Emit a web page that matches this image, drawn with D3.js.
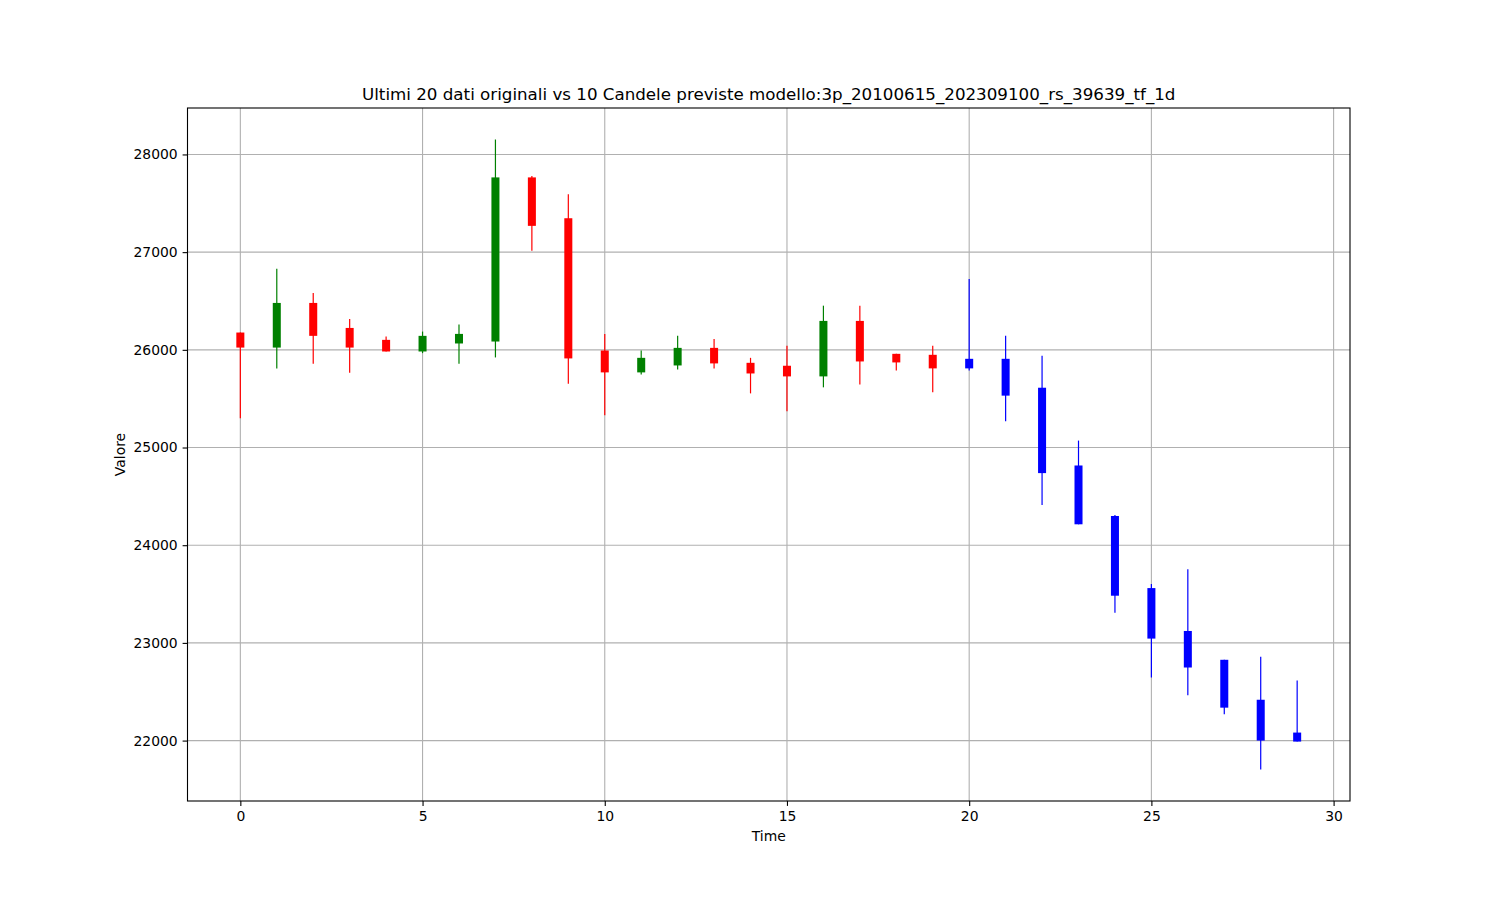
<!DOCTYPE html>
<html>
<head>
<meta charset="utf-8">
<script src="https://cdn.jsdelivr.net/npm/d3@7"></script>
<style>
  html, body { margin: 0; padding: 0; background: #fff; }
  svg { display: block; }
  text { font-family: "DejaVu Sans", sans-serif; fill: #000; }
</style>
</head>
<body>
<svg id="chart" width="1500" height="900"></svg>
<script>
// ---- data ----
const times = d3.range(0, 30);
const opens  = [26177, 26023, 26480, 26224, 26102, 25983, 26065, 26085, 27765, 27347,
                25993, 25769, 25840, 26020, 25867, 25837, 25728, 26296, 25959, 25949,
                25908, 25908, 25612, 24816, 24299, 23561, 23122, 22827, 22418, 22082];
const closes = [26023, 26480, 26143, 26023, 25983, 26143, 26163, 27765, 27269, 25912,
                25769, 25918, 26020, 25861, 25758, 25728, 26296, 25881, 25871, 25810,
                25810, 25531, 24738, 24214, 23483, 23044, 22748, 22337, 22000, 21990];
const highs  = [26177, 26830, 26582, 26316, 26136, 26187, 26258, 28153, 27779, 27592,
                26163, 25993, 26143, 26112, 25918, 26041, 26452, 26452, 25959, 26041,
                26724, 26143, 25939, 25071, 24309, 23602, 23755, 22827, 22857, 22616];
const lows   = [25299, 25809, 25857, 25765, 25983, 25966, 25857, 25922, 27014, 25653,
                25330, 25748, 25799, 25809, 25554, 25371, 25616, 25646, 25789, 25565,
                25789, 25269, 24412, 24214, 23309, 22646, 22463, 22269, 21704, 21990];
const nOriginal = 20;
const xTicks = [0, 5, 10, 15, 20, 25, 30];
const yTicks = [22000, 23000, 24000, 25000, 26000, 27000, 28000];
const titleText = "Ultimi 20 dati originali vs 10 Candele previste modello:3p_20100615_202309100_rs_39639_tf_1d";

(function () {
// ---- layout ----
const mLeft = 187.5, mRight = 1350, mTop = 108, mBottom = 801;

const svg = d3.select("#chart");

// domains with matplotlib-like 5% margins
const xmin = d3.min(times), xmax = d3.max(times);
const xm = (xmax - xmin) * 0.05;
const ymin = d3.min(lows), ymax = d3.max(highs);
const ym = (ymax - ymin) * 0.05;

const x = d3.scaleLinear().domain([xmin - xm, xmax + xm]).range([mLeft, mRight]);
const y = d3.scaleLinear().domain([ymin - ym, ymax + ym]).range([mBottom, mTop]);

const candles = times.map((t, i) => ({
  t, o: opens[i], c: closes[i], h: highs[i], l: lows[i],
  color: i >= nOriginal ? "#0000ff" : (closes[i] >= opens[i] ? "#008000" : "#ff0000")
}));

// grid
const grid = svg.append("g");
grid.selectAll("line.gx").data(xTicks).join("line")
  .attr("x1", d => x(d)).attr("x2", d => x(d))
  .attr("y1", mTop).attr("y2", mBottom)
  .attr("stroke", "#b0b0b0").attr("stroke-width", 1.1);
grid.selectAll("line.gy").data(yTicks).join("line")
  .attr("x1", mLeft).attr("x2", mRight)
  .attr("y1", d => y(d)).attr("y2", d => y(d))
  .attr("stroke", "#b0b0b0").attr("stroke-width", 1.1);

// candles
const bodyW = x(0.22) - x(0);
const cg = svg.append("g");
cg.selectAll("line.wick").data(candles).join("line")
  .attr("x1", d => x(d.t)).attr("x2", d => x(d.t))
  .attr("y1", d => y(d.h)).attr("y2", d => y(d.l))
  .attr("stroke", d => d.color).attr("stroke-width", 1.2);
cg.selectAll("rect.body").data(candles).join("rect")
  .attr("x", d => x(d.t) - bodyW / 2)
  .attr("width", bodyW)
  .attr("y", d => y(Math.max(d.o, d.c)))
  .attr("height", d => Math.max(1, Math.abs(y(d.o) - y(d.c))))
  .attr("fill", d => d.color);

// axes
const xAxis = d3.axisBottom(x).tickValues(xTicks).tickSize(4.9).tickPadding(4.9).tickFormat(d3.format("d"));
const yAxis = d3.axisLeft(y).tickValues(yTicks).tickSize(4.9).tickPadding(4.9).tickFormat(d3.format("d"));

const gx = svg.append("g").attr("transform", `translate(0,${mBottom})`).call(xAxis);
const gy = svg.append("g").attr("transform", `translate(${mLeft},0)`).call(yAxis);
[gx, gy].forEach(g => {
  g.select(".domain").remove();
  g.selectAll(".tick line").attr("stroke", "#000").attr("stroke-width", 1.1);
  g.selectAll(".tick text").attr("font-size", "13.9px").attr("font-family", "DejaVu Sans, sans-serif").attr("fill", "#000");
});

// frame
svg.append("rect")
  .attr("x", mLeft).attr("y", mTop)
  .attr("width", mRight - mLeft).attr("height", mBottom - mTop)
  .attr("fill", "none").attr("stroke", "#000").attr("stroke-width", 1.1);

// labels
svg.append("text")
  .attr("x", (mLeft + mRight) / 2).attr("y", mTop - 8.3)
  .attr("text-anchor", "middle").attr("font-size", "16.7px")
  .text(titleText);
svg.append("text")
  .attr("x", (mLeft + mRight) / 2).attr("y", 841)
  .attr("text-anchor", "middle").attr("font-size", "13.9px")
  .text("Time");
svg.append("text")
  .attr("transform", `translate(124.5,${(mTop + mBottom) / 2}) rotate(-90)`)
  .attr("text-anchor", "middle").attr("font-size", "13.9px")
  .text("Valore");
})();
</script>
</body>
</html>
